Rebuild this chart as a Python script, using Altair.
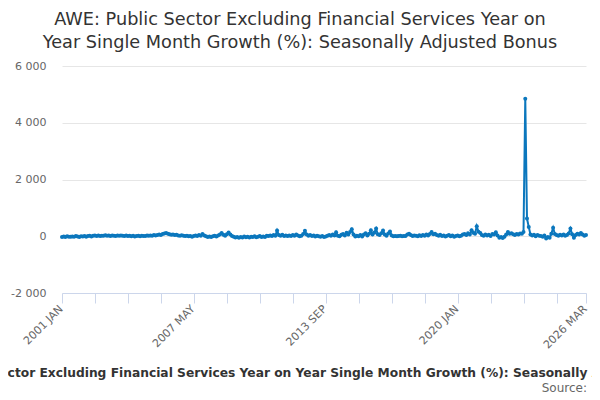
import altair as alt
import pandas as pd

title_lines = [
    "AWE: Public Sector Excluding Financial Services Year on",
    "Year Single Month Growth (%): Seasonally Adjusted Bonus",
]
series_name = ("AWE: Public Sector Excluding Financial Services Year on Year "
               "Single Month Growth (%): Seasonally Adjusted Bonus")
source_text = "Source:"

start_month = "2001-01-01"
values = [
    # 2001
    -30, -10, -25, 0, -20, -15, -5, -20, 10, -10, -25, 0,
    # 2002
    -5, 10, -15, 5, 15, -5, 20, 30, 10, 25, 5, 15,
    # 2003
    20, 35, 15, 25, 10, 30, 20, 5, 25, 15, 30, 20,
    # 2004
    10, 25, 5, 20, 0, 15, -5, 10, 20, 0, 15, 5,
    # 2005
    10, 25, 15, 30, 20, 40, 25, 45, 60, 40, 75, 100,
    # 2006
    116, 85, 70, 55, 65, 40, 55, 30, 20, 35, 15, 5,
    # 2007
    20, 0, 10, -15, 5, 25, 10, 40, 20, 80, 30, 0,
    # 2008
    -25, -10, -30, 0, 20, -5, 30, 60, 116, 50, 20, 70,
    # 2009
    130, 60, 10, -20, -40, -30, -50, -25, -40, -10, -35, -20,
    # 2010
    -45, -15, -30, 0, -35, -20, 10, -25, -5, -30, 20, 5,
    # 2011
    30, 10, 40, 15, 200, 40, 20, 50, 10, 30, 5, 25,
    # 2012
    10, 40, 15, 60, 30, 0, 20, 80, 190, 60, 20, 40,
    # 2013
    10, 30, -10, 20, 0, -20, 10, -25, -10, 15, 40, 20,
    # 2014
    60, 30, 140, 20, 0, 50, 80, 30, 120, 60, 150, 250,
    # 2015
    60, -10, 20, 0, 40, -5, 60, 110, 30, 90, 210, 60,
    # 2016
    130, 270, 70, 40, 110, 200, 60, 20, 100, 165, 30, 0,
    # 2017
    10, 0, 5, 15, 0, 10, 5, 60, 90, 40, 10, 30,
    # 2018
    20, 0, 35, 10, 40, 15, 60, 30, 80, 150, 70, 90,
    # 2019
    40, 20, 50, 10, 30, -10, 20, 40, 0, 25, -20, 10,
    # 2020
    30, 0, 20, 60, 80, 40, 110, 60, 210, 120, 90, 350,
    # 2021
    160, 116, 40, 20, 60, 30, 50, 10, 80, 60, 140, 30,
    # 2022
    -50, -30, -60, -20, 60, 150, 90, 110, 70, 40, 80, 60,
    # 2023
    100, 90, 150, 4850, 625, 330, 60, 30, 50, 0, 40, 20,
    # 2024
    10, -20, 30, -80, -30, -50, 90, 300, 80, 40, 20, 50,
    # 2025
    30, 60, 20, 40, 100, 270, 70, -50, 40, 90, 60, 116,
    # 2026
    60, 20, 40,
]
y_ticks = [-2000, 0, 2000, 4000, 6000]
x_tick_months = [0, 19, 38, 57, 76, 95, 114, 133, 152, 171, 190, 209, 228,
                 247, 266, 285, 302]
x_label_months = [0, 76, 152, 228, 302]

dates = pd.date_range(start_month, periods=len(values), freq="MS")
df = pd.DataFrame({"date": dates.strftime("%Y-%m-%d"), "value": values})


def ms(i):
    return int(dates[i].value // 10**6)


tick_ms = [ms(i) for i in x_tick_months]
label_ms = [ms(i) for i in x_label_months]
label_list = ",".join(str(v) for v in label_ms)
x_label_expr = ("indexof([" + label_list + "], time(datum.value)) >= 0 ? "
                "upper(utcFormat(datum.value, '%Y %b')) : ''")
y_label_expr = ("(datum.value < 0 ? '-' : '') + "
                "replace(format(abs(datum.value), ','), ',', ' ')")

FONT = "DejaVu Sans"
LINE_COLOR = "#0b77bd"

line = alt.Chart(df).mark_line(
    color=LINE_COLOR,
    strokeWidth=2,
    point=alt.OverlayMarkDef(filled=True, size=16, color=LINE_COLOR),
).encode(
    x=alt.X(
        "date:T",
        scale=alt.Scale(type="utc", domain=[tick_ms[0], tick_ms[-1]]),
        axis=alt.Axis(
            title=None,
            values=tick_ms,
            labelExpr=x_label_expr,
            labelAngle=-45,
            labelAlign="right",
            labelBaseline="middle",
            labelFont=FONT,
            labelFontSize=11,
            labelColor="#666666",
            labelOverlap=False,
            labelFlush=False,
            labelPadding=4,
            labelOffset=-1,
            domainColor="#ccd6eb",
            tickColor="#ccd6eb",
            tickSize=10,
            grid=False,
        ),
    ),
    y=alt.Y(
        "value:Q",
        scale=alt.Scale(domain=[-2000, 6000], nice=False, zero=False),
        axis=alt.Axis(
            title=None,
            values=y_ticks,
            labelExpr=y_label_expr,
            labelFont=FONT,
            labelFontSize=11,
            labelColor="#666666",
            labelPadding=16,
            domain=False,
            ticks=False,
            grid=True,
            gridColor="#e6e6e6",
        ),
    ),
)

legend_text = alt.Chart(pd.DataFrame({"t": [series_name]})).mark_text(
    font=FONT, fontSize=12.25, fontWeight="bold", color="#333333",
    align="center", baseline="alphabetic",
).encode(text="t:N", x=alt.value(240), y=alt.value(311))

source = alt.Chart(pd.DataFrame({"t": [source_text]})).mark_text(
    font=FONT, fontSize=12, color="#666666",
    align="right", baseline="alphabetic",
).encode(text="t:N", x=alt.value(525), y=alt.value(326))

chart = alt.layer(line, legend_text, source).properties(
    width=524,
    height=227,
    autosize=alt.AutoSizeParams(type="none"),
    padding={"left": 54, "top": 58, "right": 6, "bottom": 103},
    title=alt.TitleParams(
        text=title_lines,
        font=FONT,
        fontSize=17.7,
        fontWeight="normal",
        color="#333333",
        anchor="middle",
        frame="group",
        dx=-24,
        offset=8,
        lineHeight=23,
    ),
).configure_view(stroke=None)

chart.save("out.html", embed_options={"renderer": "svg", "actions": False})
